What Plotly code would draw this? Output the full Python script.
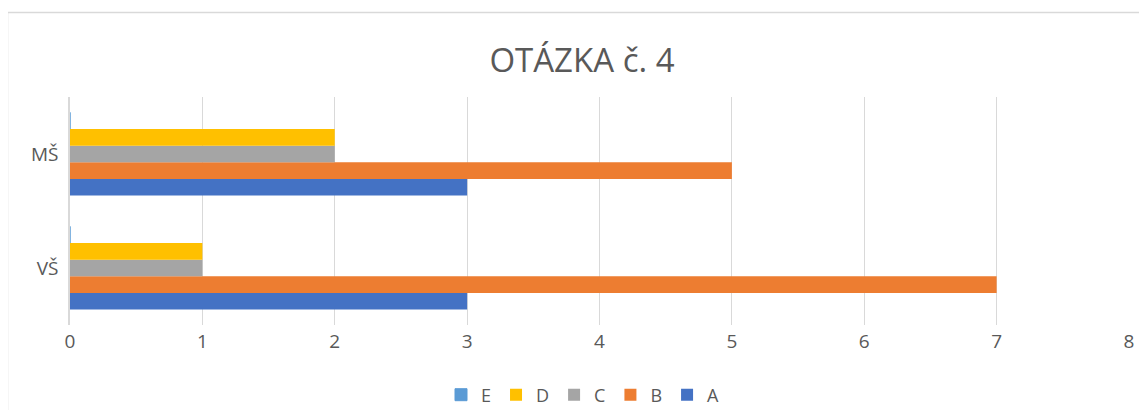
import plotly.graph_objects as go

categories = ["VŠ", "MŠ"]
series = ["A", "B", "C", "D", "E"]
values = {
    "A": [3, 3],
    "B": [7, 5],
    "C": [1, 2],
    "D": [1, 2],
    "E": [0, 0],
}
colors = {"A": "#4472C4", "B": "#ED7D31", "C": "#A5A5A5", "D": "#FFC000", "E": "#5B9BD5"}
x_ticks = [0, 1, 2, 3, 4, 5, 6, 7, 8]

# page body has an 8px margin, so the figure is 8px smaller and offset
W, H = 1139, 402
L, T, PW, PH = 62, 89, 1059, 228

fig = go.Figure()
for s in series:
    fig.add_trace(go.Bar(
        name=s, y=categories, x=values[s], orientation="h",
        marker=dict(color=colors[s], line=dict(width=1 if s == "E" else 0, color=colors[s])),
    ))

fig.update_layout(
    width=W, height=H,
    margin=dict(l=L, r=W - L - PW, t=T, b=H - T - PH, autoexpand=False),
    paper_bgcolor="white", plot_bgcolor="white",
    barmode="group", bargap=0.27, bargroupgap=0,
    title=dict(text="OTÁZKA č. 4", x=(582 - 8) / W, xanchor="center", y=1 - 52 / H,
               yanchor="middle", yref="container",
               font=dict(family="Open Sans", size=33, color="#595959")),
    font=dict(family="Open Sans", color="#595959", size=19),
    legend=dict(orientation="h", x=(583 - 8 - L) / PW, xanchor="center", yref="container",
                y=1 - 387 / H, yanchor="middle",
                traceorder="reversed", font=dict(size=18, color="#595959"),
                itemwidth=30),
    showlegend=True,
)
fig.update_xaxes(range=[0, 8], tickvals=x_ticks, showgrid=True, gridcolor="#D9D9D9",
                 gridwidth=1, zeroline=False, showline=False, ticks="",
                 automargin=False, ticklabelstandoff=3,
                 tickfont=dict(size=19, color="#595959"))
fig.update_yaxes(showgrid=False, showline=True, linecolor="#D9D9D9", linewidth=1.5,
                 ticks="", automargin=False, ticklabelstandoff=6,
                 tickfont=dict(size=19, color="#595959"))
fig.add_shape(type="rect", xref="paper", yref="paper",
              x0=(-0.5 - L) / PW, x1=1.2, y0=-0.6, y1=(T + PH - 4.5) / PH,
              line=dict(color="#D9D9D9", width=1.5), fillcolor="rgba(0,0,0,0)", layer="below")
fig.write_html("out.html")
